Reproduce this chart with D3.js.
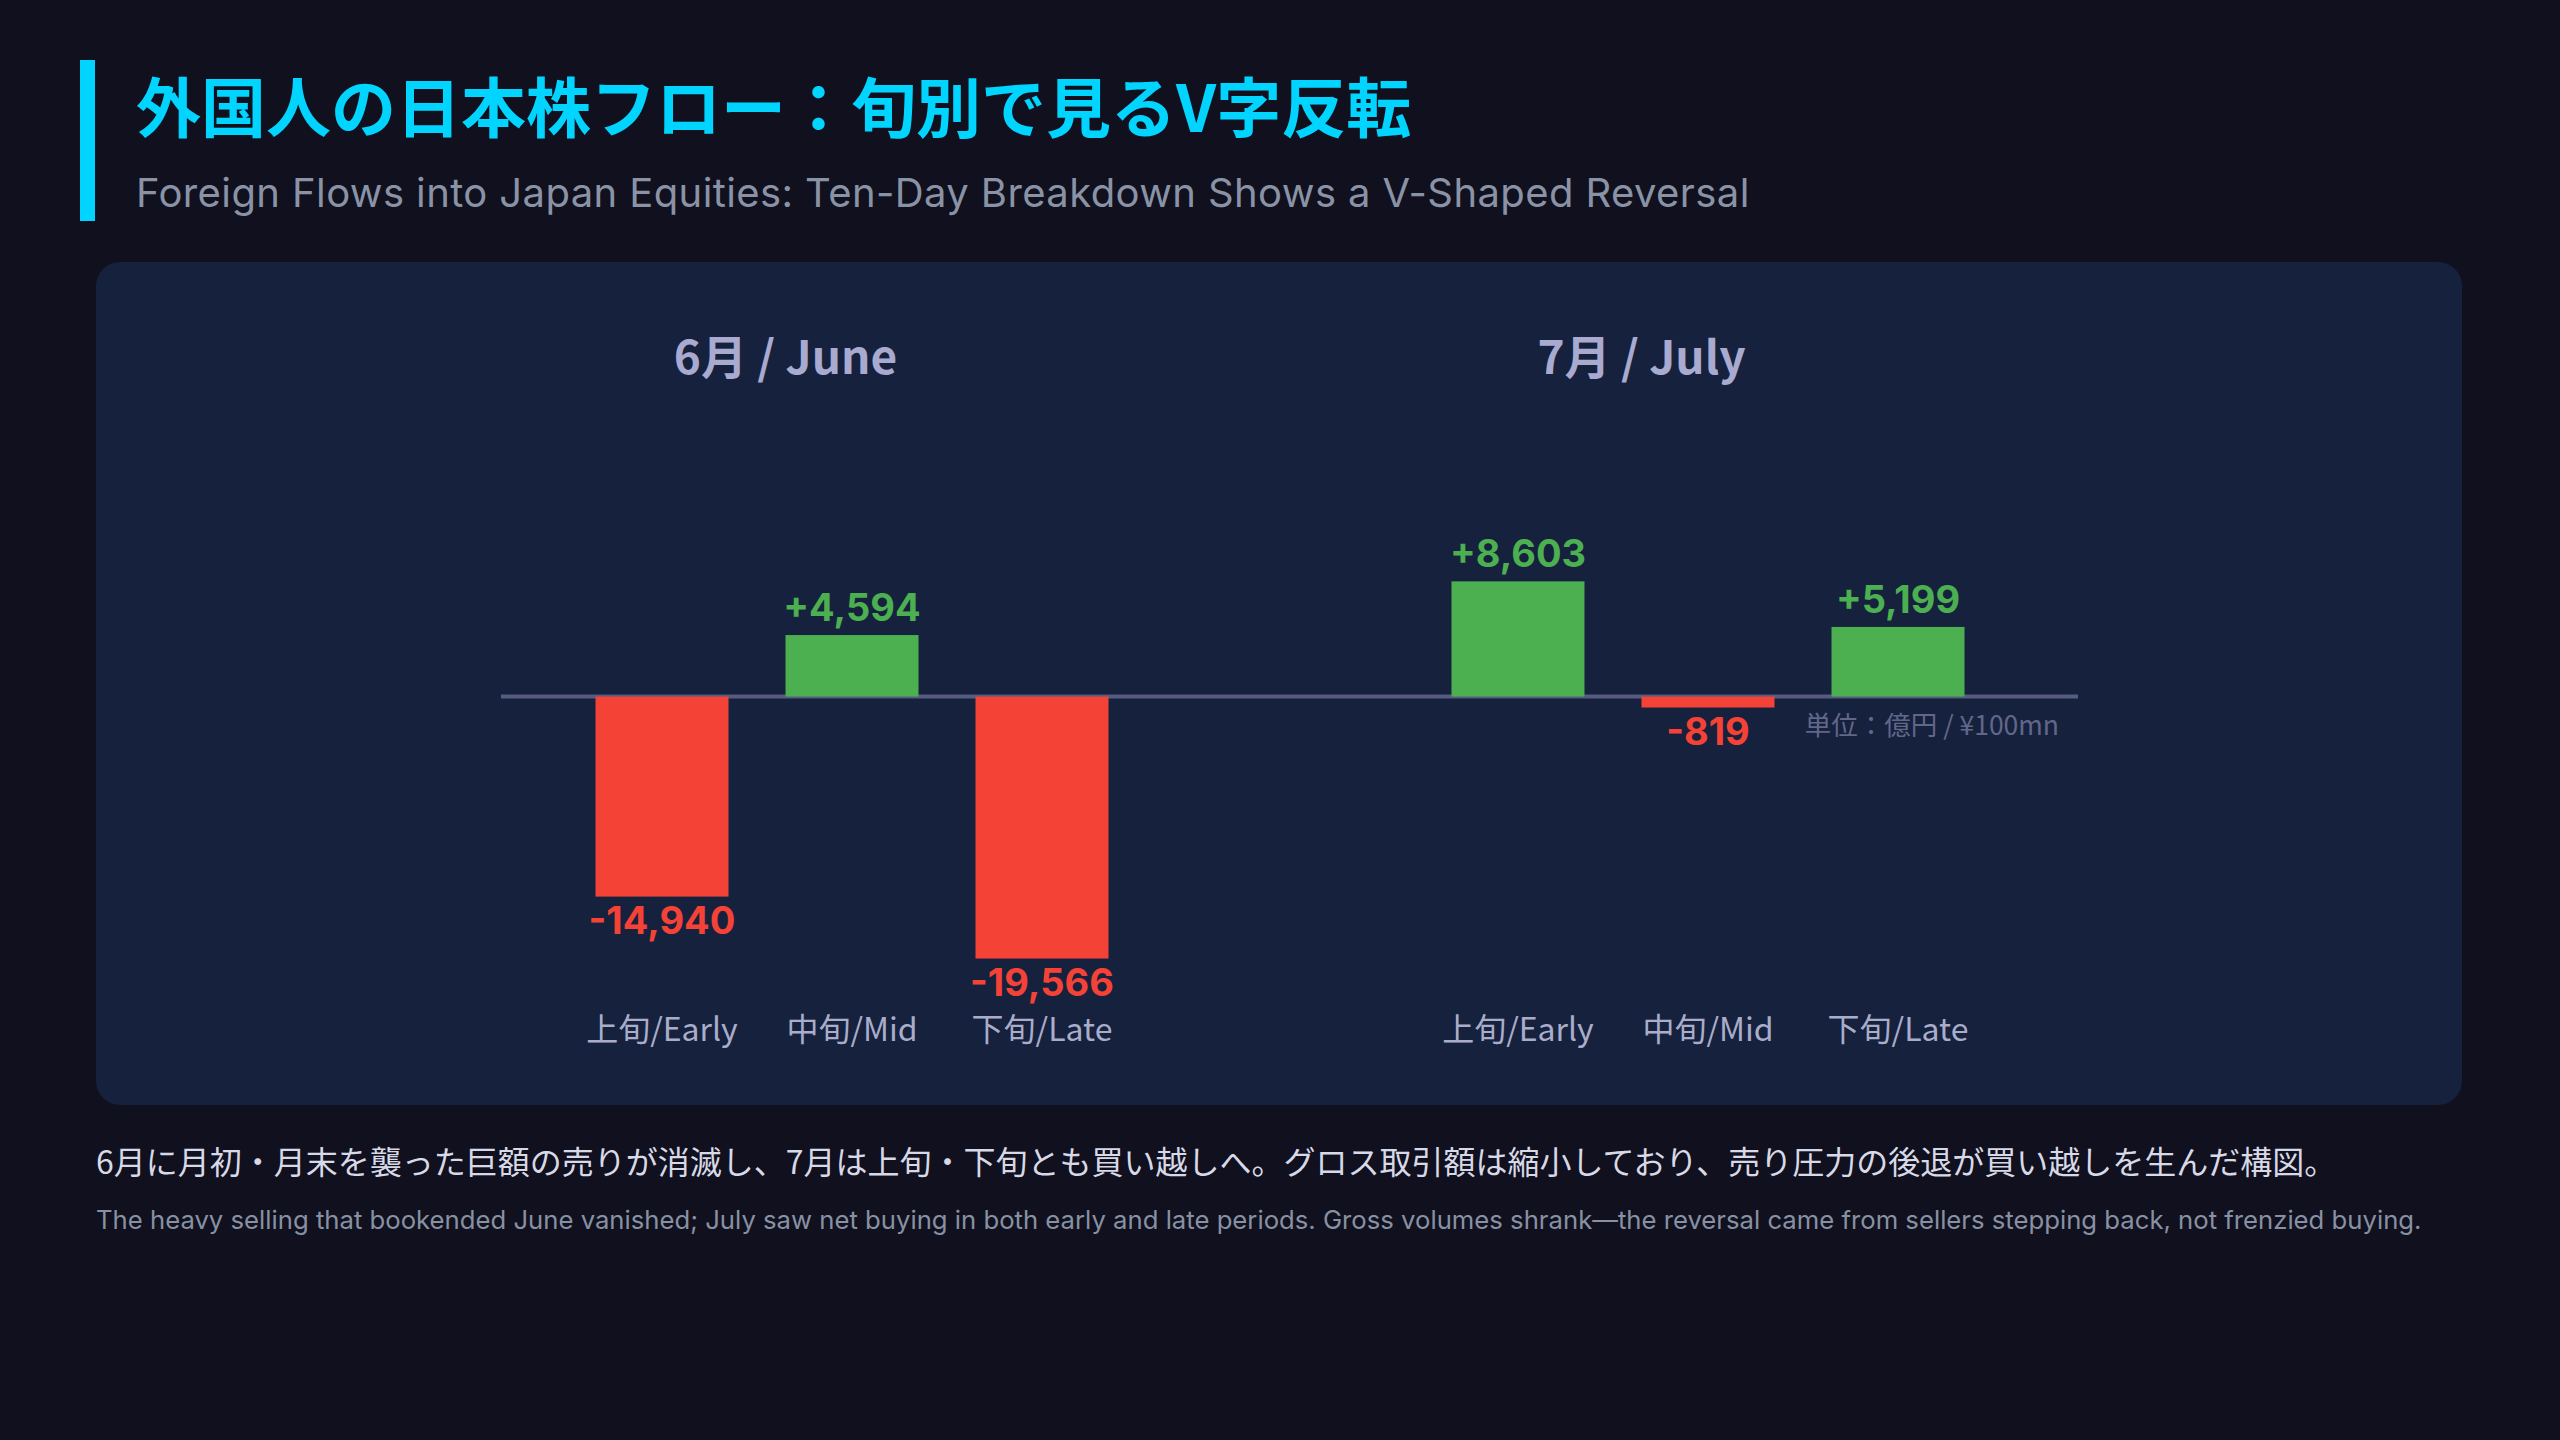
<!DOCTYPE html>
<html lang="ja">
<head>
<meta charset="UTF-8">
<title>外国人の日本株フロー</title>
<script src="https://d3js.org/d3.v7.min.js"></script>
<style>
  html, body { margin: 0; padding: 0; background: #10101e; }
  svg { display: block; }
  .lat { font-family: Inter, "Noto Sans CJK JP", sans-serif; }
  .jp { font-family: "Noto Sans CJK JP", Inter, sans-serif; }
</style>
</head>
<body>
<div id="chart"></div>
<script>
// データ（単位：億円）
const months = ["6月 / June", "7月 / July"]
const periods = ["上旬/Early", "中旬/Mid", "下旬/Late"]
const juneFlows = [-14940, 4594, -19566]
const julyFlows = [8603, -819, 5199]

const title = "外国人の日本株フロー：旬別で見るV字反転"
const subtitle = "Foreign Flows into Japan Equities: Ten-Day Breakdown Shows a V-Shaped Reversal"
const unitLabel = "単位：億円 / ¥100mn"
const noteJa = "6月に月初・月末を襲った巨額の売りが消滅し、7月は上旬・下旬とも買い越しへ。グロス取引額は縮小しており、売り圧力の後退が買い越しを生んだ構図。"
const noteEn = "The heavy selling that bookended June vanished; July saw net buying in both early and late periods. Gross volumes shrank\u2014the reversal came from sellers stepping back, not frenzied buying."

const data = []
months.forEach((m, i) => {
  const vals = i === 0 ? juneFlows : julyFlows
  periods.forEach((p, j) => data.push({ month: m, period: p, value: vals[j] }))
})

const W = 2560, H = 1440
const GREEN = '#4caf50', RED = '#f44336'

const svg = d3.select('#chart').append('svg')
  .attr('width', W).attr('height', H)

svg.append('rect').attr('width', W).attr('height', H).attr('fill', '#10101e')

// タイトル
svg.append('rect').attr('x', 80).attr('y', 60).attr('width', 15).attr('height', 161).attr('fill', '#00d4ff')
svg.append('text').attr('class', 'jp')
  .attr('x', 136).attr('y', 132)
  .attr('font-size', 65).attr('font-weight', 700).attr('fill', '#00d4ff')
  .text(title)
svg.append('text').attr('class', 'lat')
  .attr('x', 136).attr('y', 207)
  .attr('font-size', 40).attr('letter-spacing', 0.4).attr('fill', '#8a93a6')
  .text(subtitle)

// パネル
svg.append('rect').attr('x', 96).attr('y', 262).attr('width', 2366).attr('height', 843)
  .attr('rx', 24).attr('fill', '#16213e')

// スケール
const x0 = d3.scaleBand().domain(months).range([538.5, 2021.5]).paddingInner(0.2675).paddingOuter(0)
const x1 = d3.scaleBand().domain(periods).range([0, x0.bandwidth()]).padding(0.3)
const y = d3.scaleLinear().domain([-25000, 15000]).range([1031.3, 495.7])

// 月ラベル
svg.append('g').selectAll('text').data(months).enter().append('text')
  .attr('class', 'jp')
  .attr('x', d => x0(d) + x0.bandwidth() / 2 - x1.bandwidth() / 2)
  .attr('y', 374)
  .attr('text-anchor', 'middle')
  .attr('font-size', 46).attr('font-weight', 700).attr('fill', '#a9aad0')
  .text(d => d)

// ゼロライン
svg.append('line')
  .attr('x1', 501).attr('x2', 2078)
  .attr('y1', y(0)).attr('y2', y(0))
  .attr('stroke', '#565b80').attr('stroke-width', 4)

// 棒
const bx = d => x0(d.month) + x1(d.period)
svg.append('g').selectAll('rect').data(data).enter().append('rect')
  .attr('x', bx)
  .attr('y', d => y(Math.max(0, d.value)))
  .attr('width', x1.bandwidth())
  .attr('height', d => Math.abs(y(d.value) - y(0)))
  .attr('fill', d => d.value >= 0 ? GREEN : RED)

// 値ラベル
const fmt = d3.format(',')
svg.append('g').selectAll('text').data(data).enter().append('text')
  .attr('class', 'lat')
  .attr('x', d => bx(d) + x1.bandwidth() / 2)
  .attr('y', d => d.value >= 0 ? y(d.value) - 14 : y(d.value) + 37)
  .attr('text-anchor', 'middle')
  .attr('font-size', 38).attr('font-weight', 700)
  .attr('fill', d => d.value >= 0 ? GREEN : RED)
  .text(d => (d.value >= 0 ? '+' : '-') + fmt(Math.abs(d.value)))

// 旬ラベル
svg.append('g').selectAll('text').data(data).enter().append('text')
  .attr('class', 'jp')
  .attr('x', d => bx(d) + x1.bandwidth() / 2)
  .attr('y', 1041)
  .attr('text-anchor', 'middle')
  .attr('font-size', 32).attr('fill', '#a9adc9')
  .text(d => d.period)

// 単位
svg.append('text').attr('class', 'jp')
  .attr('x', 2059).attr('y', 735)
  .attr('text-anchor', 'end')
  .attr('font-size', 26.5).attr('fill', '#626789')
  .text(unitLabel)

// 注記
svg.append('text').attr('class', 'jp')
  .attr('x', 96).attr('y', 1174)
  .attr('font-size', 32).attr('fill', '#d8d9e6')
  .text(noteJa)
svg.append('text').attr('class', 'lat')
  .attr('x', 96).attr('y', 1229)
  .attr('font-size', 25.7).attr('fill', '#8891a3')
  .text(noteEn)
</script>
</body>
</html>
